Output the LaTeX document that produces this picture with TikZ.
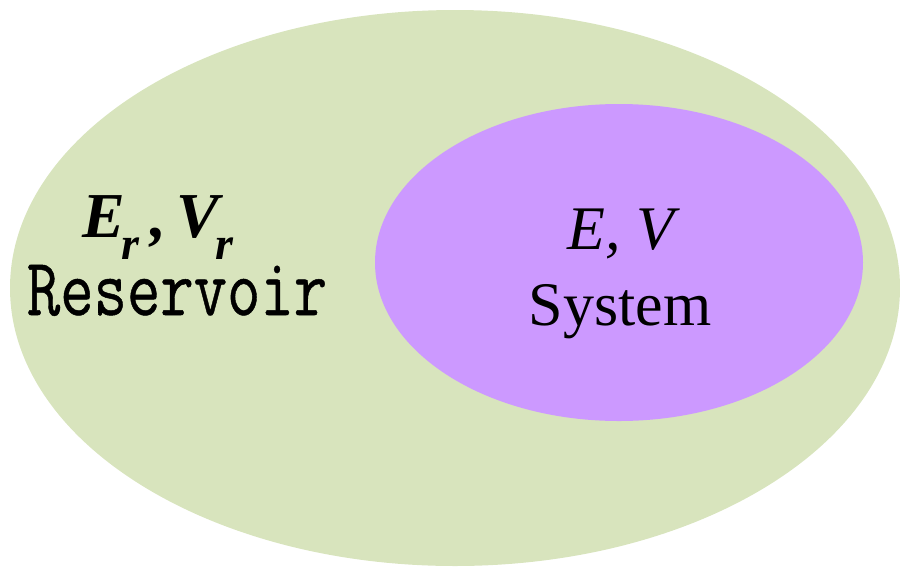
\documentclass[tikz,border=0pt]{standalone}
\usepackage{fontspec}
\usepackage{graphicx}
\setmainfont{Liberation Serif}
\newfontfamily\monofnt[FakeBold=0.6]{Latin Modern Mono}
\definecolor{outerc}{HTML}{D8E4BD}
\definecolor{innerc}{HTML}{CC99FF}
\tikzset{
  lbl/.style={anchor=base, inner sep=0pt, text=black},
}
\newcommand{\subr}{\kern-0.06em\raisebox{-0.35em}[0.3em][0pt]{\fontsize{46}{46}\selectfont r}}
\begin{document}
\begin{tikzpicture}[x=1pt,y=-1pt]
\useasboundingbox (0,0) rectangle (900,566);
\fill[outerc] (455,288) ellipse [x radius=445, y radius=278];
\fill[innerc] (619,262.5) ellipse [x radius=244, y radius=158.5];
\node[lbl] (er) at (158,237) {\fontsize{64}{64}\selectfont\bfseries\itshape E\subr\,,\,V\subr};
\node[lbl] (res) at (177,315) {\raisebox{0pt}[44pt][4pt]{\scalebox{0.79}[1]{\fontsize{82}{82}\selectfont\monofnt Reservoir}}};
\node[lbl] (ev) at (621,249) {\fontsize{62}{62}\selectfont\itshape E, V};
\node[lbl] (sys) at (620,325) {\fontsize{62}{62}\selectfont System};
\end{tikzpicture}
\end{document}
